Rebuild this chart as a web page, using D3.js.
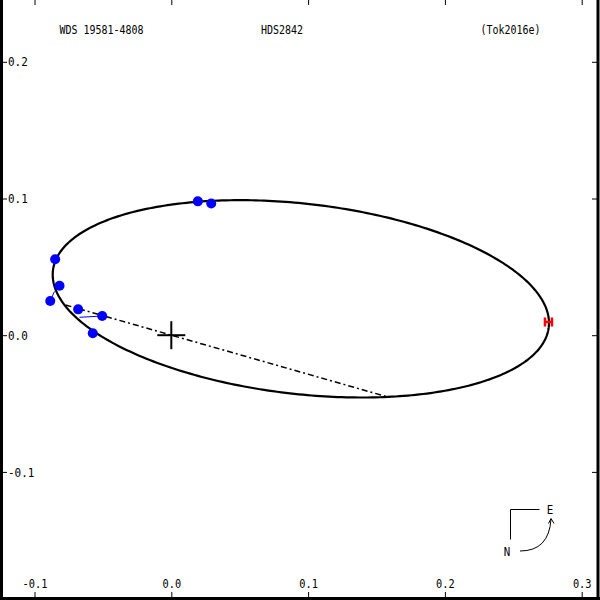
<!DOCTYPE html>
<html>
<head>
<meta charset="utf-8">
<script src="https://cdn.jsdelivr.net/npm/d3@7"></script>
<style>
  html, body { margin: 0; padding: 0; background: #fff; }
  svg { display: block; }
</style>
</head>
<body>
<svg id="chart" width="600" height="600"></svg>
<script>
// ---- data ----
const titleTexts = ["WDS 19581-4808", "HDS2842", "(Tok2016e)"];
const xTicks = [-0.1, 0.0, 0.1, 0.2, 0.3];
const xTickLabels = ["-0.1", "0.0", "0.1", "0.2", "0.3"];
const yTicks = [-0.1, 0.0, 0.1, 0.2];
const yTickLabels = ["-0.1", "0.0", "0.1", "0.2"];

// apparent orbit ellipse (arcsec): centre, semi-axes, position angle of major axis (deg)
const ellipseCenter = [0.0947, 0.0266];
const ellipseAxes = [0.1824, 0.0696];
const ellipseAngle = -6.52;

// observed positions (speckle)
const obsX = [0.0194, 0.0292, -0.0849, -0.0817, -0.0885, -0.0681, -0.0505, -0.0574];
const obsY = [0.0979, 0.0964, 0.0555, 0.0362, 0.0250, 0.0189, 0.0140, 0.0014];
// computed positions (O-C line ends)
const fitX = [0.0194, 0.0292, -0.0849, -0.0817, -0.0854, -0.0681, -0.0671, -0.0574];
const fitY = [0.0979, 0.0964, 0.0555, 0.0362, 0.0320, 0.0189, 0.0131, 0.0014];

// Hipparcos measure
const hipX = [0.2757];
const hipY = [0.0097];

// line of nodes
const nodeX = [-0.0773, 0.1580];
const nodeY = [0.0221, -0.0451];

// ---- scales ----
const x = d3.scaleLinear().domain([-0.1, 0.3]).range([34.5, 581.7]);
const y = d3.scaleLinear().domain([-0.1, 0.2]).range([471.9, 61.8]);

const svg = d3.select("#chart");
const FONT = "DejaVu Sans Mono";

// ---- frame ----
svg.append("line").attr("x1", 1.5).attr("x2", 1.5).attr("y1", 0).attr("y2", 600)
  .attr("stroke", "#000").attr("stroke-width", 3);
svg.append("line").attr("x1", 598).attr("x2", 598).attr("y1", 0).attr("y2", 600)
  .attr("stroke", "#000").attr("stroke-width", 3);
svg.append("line").attr("x1", 0).attr("x2", 600).attr("y1", 598.5).attr("y2", 598.5)
  .attr("stroke", "#000").attr("stroke-width", 3);

// ---- axes ----
function styleAxis(g) {
  g.select(".domain").remove();
  g.selectAll(".tick line").attr("stroke", "#000").attr("stroke-width", 1);
  g.selectAll("text").attr("font-family", FONT).attr("font-size", 13).attr("fill", "#000");
}
// bottom (labels inside, above)
svg.append("g").attr("transform", "translate(0,597)")
  .call(d3.axisTop(x).tickValues(xTicks).tickSize(5).tickPadding(4)
    .tickFormat((d, i) => xTickLabels[i]))
  .call(styleAxis)
  .call(g => g.selectAll("text").each(function(d, i) {
    d3.select(this).attr("textLength", xTickLabels[i].length * 6.2).attr("lengthAdjust", "spacingAndGlyphs");
  }));
// top
svg.append("g").attr("transform", "translate(0,0)")
  .call(d3.axisBottom(x).tickValues(xTicks).tickSize(5).tickFormat(""))
  .call(styleAxis);
// left (labels inside, right of tick)
svg.append("g").attr("transform", "translate(2,0)")
  .call(d3.axisRight(y).tickValues(yTicks).tickSize(5).tickPadding(1)
    .tickFormat((d, i) => yTickLabels[i]))
  .call(styleAxis)
  .call(g => g.selectAll("text").each(function(d, i) {
    d3.select(this).attr("textLength", yTickLabels[i].length * 6.6).attr("lengthAdjust", "spacingAndGlyphs");
  }));
// right
svg.append("g").attr("transform", "translate(597,0)")
  .call(d3.axisLeft(y).tickValues(yTicks).tickSize(5).tickFormat(""))
  .call(styleAxis);

// ---- titles ----
const titleX = [59.5, 261, 480.5];
svg.selectAll("text.title").data(titleTexts).enter().append("text")
  .attr("class", "title")
  .attr("x", (d, i) => titleX[i]).attr("y", 33.5)
  .attr("font-family", FONT).attr("font-size", 13)
  .attr("textLength", d => d.length * 6.0).attr("lengthAdjust", "spacingAndGlyphs")
  .text(d => d);

// ---- orbit ellipse ----
const th = ellipseAngle * Math.PI / 180;
const ellPts = d3.range(0, 361).map(k => {
  const t = k * Math.PI / 180;
  const u = ellipseAxes[0] * Math.cos(t), v = ellipseAxes[1] * Math.sin(t);
  return [ellipseCenter[0] + u * Math.cos(th) - v * Math.sin(th),
          ellipseCenter[1] + u * Math.sin(th) + v * Math.cos(th)];
});
svg.append("path")
  .attr("d", d3.line().x(d => x(d[0])).y(d => y(d[1]))(ellPts))
  .attr("fill", "none").attr("stroke", "#000").attr("stroke-width", 2.2);

// ---- line of nodes ----
svg.append("path")
  .attr("d", d3.line().x(d => x(d[0])).y(d => y(d[1]))(nodeX.map((d, i) => [d, nodeY[i]])))
  .attr("fill", "none").attr("stroke", "#000").attr("stroke-width", 1.5)
  .attr("stroke-dasharray", "6,3,2,3");

// ---- primary star cross ----
const cross = svg.append("g").attr("stroke", "#000").attr("stroke-width", 2);
cross.append("line").attr("x1", x(0) - 14).attr("x2", x(0) + 14).attr("y1", y(0)).attr("y2", y(0));
cross.append("line").attr("x1", x(0)).attr("x2", x(0)).attr("y1", y(0) - 14).attr("y2", y(0) + 14);

// ---- O-C lines ----
svg.selectAll("line.oc").data(obsX).enter().append("line")
  .attr("class", "oc")
  .attr("x1", (d, i) => x(obsX[i])).attr("y1", (d, i) => y(obsY[i]))
  .attr("x2", (d, i) => x(fitX[i])).attr("y2", (d, i) => y(fitY[i]))
  .attr("stroke", "#0000ff").attr("stroke-width", 1);

// ---- observations ----
svg.selectAll("circle.obs").data(obsX).enter().append("circle")
  .attr("class", "obs")
  .attr("cx", (d, i) => x(obsX[i])).attr("cy", (d, i) => y(obsY[i]))
  .attr("r", 5).attr("fill", "#0000ff");

// ---- Hipparcos "H" ----
hipX.forEach((hx, i) => {
  const cx = x(hx), cy = y(hipY[i]);
  svg.append("path")
    .attr("d", `M${cx - 3.5},${cy - 4.5}V${cy + 4.5}M${cx + 3.5},${cy - 4.5}V${cy + 4.5}M${cx - 3.5},${cy}H${cx + 3.5}`)
    .attr("stroke", "#ff0000").attr("stroke-width", 2.5).attr("fill", "none");
});

// ---- compass ----
const comp = svg.append("g").attr("stroke", "#000").attr("stroke-width", 1).attr("fill", "none");
comp.append("path").attr("d", "M539.5,509.5H510.5V539.5");
comp.append("path").attr("d", "M520,551 Q549,551 551,519");
comp.append("path").attr("d", "M548.5,523.5 L551,518.5 L554,523.5");
svg.append("text").attr("x", 550).attr("y", 514).attr("text-anchor", "middle")
  .attr("font-family", FONT).attr("font-size", 13).attr("textLength", 6.5)
  .attr("lengthAdjust", "spacingAndGlyphs").text("E");
svg.append("text").attr("x", 507).attr("y", 556).attr("text-anchor", "middle")
  .attr("font-family", FONT).attr("font-size", 13).attr("textLength", 6.5)
  .attr("lengthAdjust", "spacingAndGlyphs").text("N");
</script>
</body>
</html>
